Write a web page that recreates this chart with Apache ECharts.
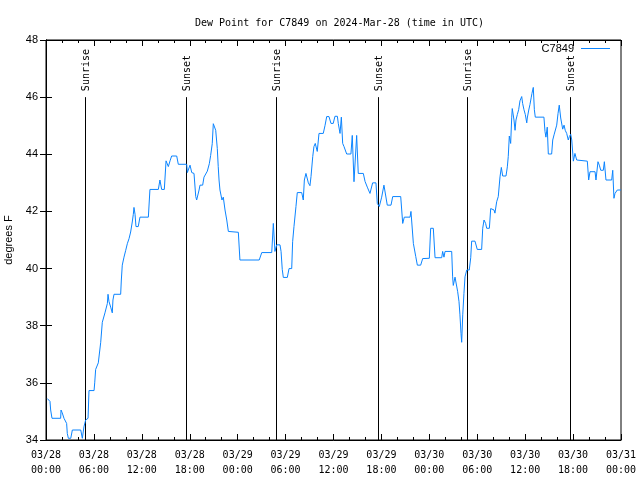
<!DOCTYPE html>
<html>
<head>
<meta charset="utf-8">
<script src="https://cdn.jsdelivr.net/npm/echarts@6/dist/echarts.min.js"></script>
<style>
html,body{margin:0;padding:0;background:#fff;}
#chart{width:640px;height:480px;}
</style>
</head>
<body>
<div id="chart"></div>
<script>
// Minutes since 2024-03-28 00:00 UTC
var minutes = [10,30,35,45,110,113,122,135,155,160,168,186,198,261,273,285,298,316,323,361,366,373,393,411,423,436,443,461,466,473,486,498,503,511,561,566,573,586,599,611,624,636,648,656,661,669,676,693,706,769,781,844,856,869,889,902,919,932,944,982,994,1057,1062,1082,1095,1112,1125,1132,1150,1157,1177,1187,1202,1212,1227,1237,1249,1257,1264,1275,1287,1294,1300,1307,1322,1332,1345,1358,1370,1445,1457,1602,1621,1696,1708,1720,1733,1758,1766,1775,1783,1813,1826,1846,1853,1863,1878,1888,1921,1933,1941,1953,1971,1983,1991,2004,2013,2023,2038,2051,2083,2096,2109,2126,2141,2158,2171,2189,2196,2209,2219,2229,2239,2259,2291,2301,2314,2334,2346,2384,2397,2414,2434,2454,2479,2489,2504,2522,2539,2564,2592,2605,2665,2680,2692,2735,2742,2760,2778,2790,2815,2830,2880,2890,2910,2923,2973,2980,2990,2998,3048,3055,3060,3073,3086,3093,3103,3110,3118,3123,3131,3140,3148,3161,3180,3191,3198,3223,3240,3273,3281,3291,3303,3311,3331,3341,3366,3373,3386,3398,3411,3421,3431,3456,3466,3473,3481,3491,3499,3503,3516,3524,3531,3541,3551,3561,3574,3581,3591,3601,3612,3616,3627,3636,3646,3651,3661,3669,3676,3741,3749,3756,3766,3774,3799,3807,3817,3832,3837,3847,3856,3867,3882,3892,3901,3912,3924,3932,3942,3950,3962,3974,3987,3999,4067,4077,4087,4125,4132,4147,4157,4168,4187,4195,4207,4250,4258,4267,4275,4292,4320];
var dewPoint = [35.45,35.35,35.05,34.76,34.76,35.05,34.95,34.76,34.58,34.23,34.06,34.06,34.35,34.35,34.06,34.46,34.7,34.76,35.73,35.73,36.0,36.47,36.7,37.42,38.12,38.12,38.45,38.78,39.1,38.85,38.65,38.45,38.9,39.1,39.1,39.6,40.12,40.4,40.64,40.87,41.05,41.28,41.63,41.9,42.14,41.9,41.47,41.47,41.8,41.8,42.77,42.77,43.1,42.77,42.77,43.77,43.57,43.77,43.94,43.94,43.65,43.65,43.36,43.62,43.36,43.33,42.52,42.4,42.75,42.92,42.92,43.2,43.2,43.41,43.67,43.96,44.37,45.07,45.07,44.84,44.2,43.57,43.1,42.75,42.4,42.5,42.05,41.7,41.3,41.27,40.3,40.3,40.56,40.56,41.58,40.6,40.83,40.83,40.6,39.97,39.69,39.69,40.0,40.0,40.94,41.47,42.17,42.66,42.66,42.4,43.1,43.33,43.0,42.9,43.22,43.92,44.27,44.38,44.1,44.73,44.73,45.0,45.32,45.32,45.08,45.08,45.33,45.33,45.08,44.73,45.3,44.38,44.27,44.01,44.01,44.66,43.04,44.66,43.33,43.33,43.05,42.85,42.63,43.0,43.0,42.28,42.17,42.5,42.92,42.22,42.22,42.52,42.52,41.58,41.8,41.8,42.0,40.88,40.42,40.12,40.12,40.35,40.36,41.41,41.41,40.38,40.38,40.6,40.4,40.6,40.6,39.71,39.41,39.7,39.7,39.19,38.84,38.38,37.73,37.42,38.38,39.13,39.71,39.95,39.95,40.38,40.96,40.96,40.67,40.67,41.41,41.7,41.58,41.41,41.41,42.1,42.05,41.94,42.34,42.52,43.21,43.54,43.24,43.24,43.56,43.92,44.64,44.38,45.3,45.6,45.2,44.84,45.2,45.39,45.56,45.87,46.02,45.78,45.56,45.39,45.1,45.27,45.55,45.74,46.0,46.13,46.34,45.56,45.3,45.3,44.8,44.6,44.95,44.01,44.01,44.5,44.68,44.68,45.02,45.43,45.72,45.27,44.88,45.02,44.84,44.73,44.5,44.62,44.7,44.5,43.76,44.03,43.8,43.76,43.76,43.1,43.39,43.39,43.1,43.74,43.62,43.44,43.44,43.74,43.1,43.1,43.44,42.46,42.63,42.75,42.75];
var sunMinutes = [295,1052,1730,2497,3165,3939];
var sunLabels = ['Sunrise','Sunset','Sunrise','Sunset','Sunrise','Sunset'];
var xTickLabels = ['03/28\n00:00','03/28\n06:00','03/28\n12:00','03/28\n18:00','03/29\n00:00','03/29\n06:00','03/29\n12:00','03/29\n18:00','03/30\n00:00','03/30\n06:00','03/30\n12:00','03/30\n18:00','03/31\n00:00'];
var seriesName = 'C7849';
var titleText = 'Dew Point for C7849 on 2024-Mar-28 (time in UTC)';
var yName = 'degrees F';

var lineColor = '#0b84ff';
var mono = '"DejaVu Sans Mono", monospace';
var sans = '"Liberation Sans", Arial, sans-serif';

var lineData = minutes.map(function(m, i){ return [m, dewPoint[i]]; });
var sunData = sunMinutes.map(function(m){ return [m]; });

var chart = echarts.init(document.getElementById('chart'), null, {renderer:'canvas'});
var xCommon = {
  type:'value', min:0, max:4320, interval:360,
  axisLine:{show:true, lineStyle:{color:'#000', width:1}},
  axisTick:{show:true, inside:true, length:6, lineStyle:{color:'#000'}},
  minorTick:{show:true, splitNumber:3, length:3, lineStyle:{color:'#000'}},
  splitLine:{show:false}
};
var yCommon = {
  type:'value', min:34, max:48, interval:2,
  axisLine:{show:true, lineStyle:{color:'#000', width:1}},
  axisTick:{show:true, inside:true, length:6, lineStyle:{color:'#000'}},
  splitLine:{show:false}
};
chart.setOption({
  animation:false,
  backgroundColor:'#fff',
  title:{
    text:titleText, left:190, top:13,
    textStyle:{fontFamily:mono, fontSize:10, fontWeight:'normal', color:'#000'}
  },
  legend:{
    data:[seriesName], right:30, top:43, align:'right', padding:0,
    itemWidth:29, itemHeight:1, icon:'rect', itemGap:0,
    textStyle:{fontFamily:sans, fontSize:11, color:'#000', padding:[0,2,0,0]}
  },
  grid:{left:46, right:19, top:40, bottom:40, containLabel:false, outerBoundsMode:'none',
    show:true, borderColor:'#000', borderWidth:1},
  xAxis:[
    Object.assign({}, xCommon, {position:'bottom',
      axisLabel:{show:true, margin:8, fontFamily:mono, fontSize:10, color:'#000', lineHeight:15,
        formatter:function(v){ return xTickLabels[Math.round(v/360)] || ''; }}}),
    Object.assign({}, xCommon, {position:'top', axisLabel:{show:false}})
  ],
  yAxis:[
    Object.assign({}, yCommon, {position:'left', name:yName, nameLocation:'middle', nameGap:32, nameRotate:90,
      nameTextStyle:{fontFamily:sans, fontSize:11, color:'#000'},
      axisLabel:{show:true, margin:8, fontFamily:sans, fontSize:11, color:'#000'}}),
    Object.assign({}, yCommon, {position:'right', axisLabel:{show:false}})
  ],
  series:[
    {
      name:seriesName, type:'line', data:lineData, xAxisIndex:0, yAxisIndex:0,
      showSymbol:false, symbol:'none', lineStyle:{color:lineColor, width:1}, itemStyle:{color:lineColor},
      clip:true, z:3
    },
    {
      name:'sun', type:'custom', data:sunData, xAxisIndex:0, yAxisIndex:0, z:2,
      renderItem:function(params, api){
        var t = api.value(0);
        var p0 = api.coord([t, 34]);
        var p1 = api.coord([t, 46]);
        var x = Math.round(p0[0]) + 0.5;
        return {type:'group', children:[
          {type:'line', shape:{x1:x, y1:p0[1], x2:x, y2:p1[1]}, style:{stroke:'#000', lineWidth:1}},
          {type:'text', x:x+1, y:p1[1]-6, rotation:Math.PI/2,
            style:{text:sunLabels[params.dataIndex], align:'left', verticalAlign:'middle',
              font:'10px ' + mono, fill:'#000'}}
        ]};
      }
    }
  ]
});
</script>
</body>
</html>
